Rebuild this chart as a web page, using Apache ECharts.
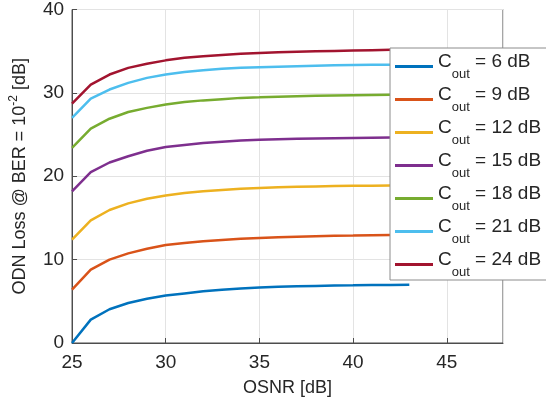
<!DOCTYPE html>
<html>
<head>
<meta charset="utf-8">
<script src="https://cdn.jsdelivr.net/npm/echarts@6/dist/echarts.min.js"></script>
<style>
html,body{margin:0;padding:0;background:#fff;}
#chart{width:546px;height:404px;}
</style>
</head>
<body>
<div id="chart"></div>
<script>
// OSNR values [dB]
var osnr = [25,26,27,28,29,30,31,32,33,34,35,36,37,38,39,40,41,42,43];
// Cout levels [dB]
var coutLevels = [6, 9, 12, 15, 18, 21, 24];
// ODN loss series [dB]
var loss6  = [0, 2.8, 4.05, 4.8, 5.3, 5.7, 5.95, 6.2, 6.4, 6.55, 6.65, 6.75, 6.8, 6.85, 6.9, 6.92, 6.95, 6.97, 7.0];
var loss9  = [6.4, 8.8, 10.0, 10.75, 11.3, 11.75, 12.0, 12.2, 12.35, 12.5, 12.6, 12.68, 12.75, 12.8, 12.85, 12.88, 12.92, 12.95, 12.97];
var loss12 = [12.4, 14.7, 15.95, 16.75, 17.3, 17.7, 18.0, 18.2, 18.35, 18.5, 18.6, 18.67, 18.73, 18.78, 18.82, 18.85, 18.87, 18.9, 18.92];
var loss15 = [18.2, 20.5, 21.65, 22.4, 23.05, 23.5, 23.75, 24.0, 24.15, 24.3, 24.38, 24.45, 24.5, 24.54, 24.57, 24.6, 24.62, 24.64, 24.65];
var loss18 = [23.4, 25.7, 26.9, 27.7, 28.2, 28.6, 28.9, 29.1, 29.25, 29.4, 29.47, 29.55, 29.6, 29.65, 29.7, 29.73, 29.76, 29.78, 29.8];
var loss21 = [27.0, 29.3, 30.4, 31.2, 31.8, 32.2, 32.5, 32.7, 32.88, 33.0, 33.07, 33.14, 33.2, 33.25, 33.3, 33.33, 33.36, 33.38, 33.4];
var loss24 = [28.7, 31.0, 32.2, 33.0, 33.5, 33.9, 34.2, 34.4, 34.55, 34.7, 34.78, 34.86, 34.93, 34.98, 35.03, 35.08, 35.12, 35.16, 35.2];
var allLoss = [loss6, loss9, loss12, loss15, loss18, loss21, loss24];
var colors = ['#0072BD', '#D95319', '#EDB120', '#7E2F8E', '#77AC30', '#4DBEEE', '#A2142F'];

var FONT = 'Liberation Sans, Arial, sans-serif';
var TXT = '#262626';

var series = allLoss.map(function (ys, i) {
  return {
    name: 'Cout = ' + coutLevels[i] + ' dB',
    type: 'line',
    symbol: 'none',
    showSymbol: false,
    smooth: false,
    lineStyle: { width: 2.5, color: colors[i] },
    itemStyle: { color: colors[i] },
    data: osnr.map(function (x, j) { return [x, ys[j]]; }),
    z: 2
  };
});

var chart = echarts.init(document.getElementById('chart'), null, { renderer: 'canvas' });
chart.setOption({
  animation: false,
  backgroundColor: '#fff',
  textStyle: { fontFamily: FONT },
  grid: {
    left: 65, right: 43, top: 7, bottom: 61,
    show: true, borderColor: '#4d4d4d', borderWidth: 1, backgroundColor: 'transparent'
  },
  xAxis: {
    type: 'value', min: 25, max: 48, interval: 5,
    name: 'OSNR [dB]', nameLocation: 'middle', nameGap: 36,
    nameTextStyle: { fontSize: 18, color: TXT, fontFamily: FONT },
    axisLine: { show: true, lineStyle: { color: '#4d4d4d', width: 1 } },
    axisTick: { show: true, inside: true, length: 5, lineStyle: { color: '#4d4d4d' } },
    axisLabel: { fontSize: 19, color: TXT, margin: 10, fontFamily: FONT, showMaxLabel: false },
    splitLine: { show: true, lineStyle: { color: '#e3e3e3', width: 1 } }
  },
  yAxis: {
    type: 'value', min: 0, max: 40, interval: 10,
    name: 'ODN Loss @ BER = 10{sup|-2} [dB]', nameLocation: 'middle', nameGap: 30,
    nameTextStyle: {
      fontSize: 18, color: TXT, fontFamily: FONT,
      rich: {
        sup: { fontSize: 12, color: TXT, fontFamily: FONT, padding: [0, 0, 12, 0], lineHeight: 22 }
      }
    },
    axisLine: { show: true, lineStyle: { color: '#4d4d4d', width: 1 } },
    axisTick: { show: true, inside: true, length: 5, lineStyle: { color: '#4d4d4d' } },
    axisLabel: { fontSize: 19, color: TXT, margin: 8, fontFamily: FONT },
    splitLine: { show: true, lineStyle: { color: '#e3e3e3', width: 1 } }
  },
  legend: {
    orient: 'vertical',
    left: 390, top: 48,
    padding: [4, 40, 1, 5],
    icon: 'rect',
    itemWidth: 38, itemHeight: 3,
    itemGap: 4,
    itemTextGap: 4,
    backgroundColor: '#fff',
    borderColor: '#8c8c8c', borderWidth: 1, borderRadius: 0,
    selectedMode: false,
    data: series.map(function (s) { return s.name; }),
    formatter: function (name) {
      var v = name.replace('Cout = ', '');
      return '{m|C}{s|out}{m| = ' + v + '}';
    },
    textStyle: {
      fontFamily: FONT, color: TXT, fontSize: 19,
      rich: {
        m: { fontSize: 19, color: TXT, fontFamily: FONT, lineHeight: 29, verticalAlign: 'top' },
        s: { fontSize: 13, color: TXT, fontFamily: FONT, lineHeight: 29, verticalAlign: 'bottom' }
      }
    },
    z: 10
  },
  series: series
});
</script>
</body>
</html>
